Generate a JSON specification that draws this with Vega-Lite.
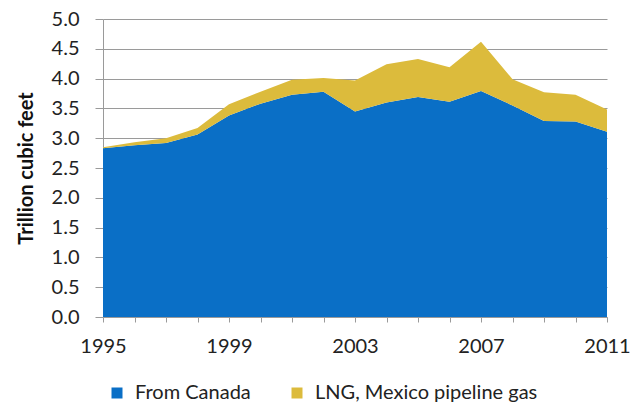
{
  "$schema": "https://vega.github.io/schema/vega-lite/v6.json",
  "width": 504,
  "height": 298,
  "autosize": {"type": "none"},
  "padding": {"left": 103, "top": 19, "right": 33, "bottom": 89},
  "background": "white",
  "config": {"font": "Lato", "view": {"stroke": null}},
  "data": {
    "values": [
      {"year": 1995, "series": "From Canada", "value": 2.83},
      {"year": 1996, "series": "From Canada", "value": 2.88},
      {"year": 1997, "series": "From Canada", "value": 2.92},
      {"year": 1998, "series": "From Canada", "value": 3.06},
      {"year": 1999, "series": "From Canada", "value": 3.38},
      {"year": 2000, "series": "From Canada", "value": 3.58},
      {"year": 2001, "series": "From Canada", "value": 3.73},
      {"year": 2002, "series": "From Canada", "value": 3.78},
      {"year": 2003, "series": "From Canada", "value": 3.45},
      {"year": 2004, "series": "From Canada", "value": 3.6},
      {"year": 2005, "series": "From Canada", "value": 3.69},
      {"year": 2006, "series": "From Canada", "value": 3.61},
      {"year": 2007, "series": "From Canada", "value": 3.79},
      {"year": 2008, "series": "From Canada", "value": 3.55},
      {"year": 2009, "series": "From Canada", "value": 3.29},
      {"year": 2010, "series": "From Canada", "value": 3.28},
      {"year": 2011, "series": "From Canada", "value": 3.11},
      {"year": 1995, "series": "LNG, Mexico pipeline gas", "value": 0.02},
      {"year": 1996, "series": "LNG, Mexico pipeline gas", "value": 0.05},
      {"year": 1997, "series": "LNG, Mexico pipeline gas", "value": 0.08},
      {"year": 1998, "series": "LNG, Mexico pipeline gas", "value": 0.11},
      {"year": 1999, "series": "LNG, Mexico pipeline gas", "value": 0.19},
      {"year": 2000, "series": "LNG, Mexico pipeline gas", "value": 0.2},
      {"year": 2001, "series": "LNG, Mexico pipeline gas", "value": 0.25},
      {"year": 2002, "series": "LNG, Mexico pipeline gas", "value": 0.23},
      {"year": 2003, "series": "LNG, Mexico pipeline gas", "value": 0.52},
      {"year": 2004, "series": "LNG, Mexico pipeline gas", "value": 0.64},
      {"year": 2005, "series": "LNG, Mexico pipeline gas", "value": 0.64},
      {"year": 2006, "series": "LNG, Mexico pipeline gas", "value": 0.58},
      {"year": 2007, "series": "LNG, Mexico pipeline gas", "value": 0.83},
      {"year": 2008, "series": "LNG, Mexico pipeline gas", "value": 0.44},
      {"year": 2009, "series": "LNG, Mexico pipeline gas", "value": 0.48},
      {"year": 2010, "series": "LNG, Mexico pipeline gas", "value": 0.45},
      {"year": 2011, "series": "LNG, Mexico pipeline gas", "value": 0.37}
    ]
  },
  "mark": {"type": "area", "opacity": 1},
  "encoding": {
    "x": {
      "field": "year",
      "type": "quantitative",
      "scale": {"domain": [1995, 2011], "nice": false, "zero": false},
      "axis": {
        "values": [1995, 1996, 1997, 1998, 1999, 2000, 2001, 2002, 2003, 2004, 2005, 2006, 2007, 2008, 2009, 2010, 2011],
        "format": "d",
        "labelExpr": "(datum.value - 1995) % 4 == 0 ? datum.label : ''",
        "title": null,
        "grid": false,
        "domainColor": "#9a9a9a",
        "tickColor": "#9a9a9a",
        "tickSize": 5,
        "labelFontSize": 20,
        "labelColor": "#222222",
        "labelPadding": 14,
        "labelFlush": false
      }
    },
    "y": {
      "field": "value",
      "type": "quantitative",
      "stack": "zero",
      "scale": {"domain": [0, 5], "nice": false},
      "axis": {
        "values": [0, 0.5, 1, 1.5, 2, 2.5, 3, 3.5, 4, 4.5, 5],
        "format": ".1f",
        "title": "Trillion cubic feet",
        "titleFontSize": 20,
        "titleFontWeight": "bold",
        "titleColor": "#111111",
        "titlePadding": 15,
        "gridColor": "#9a9a9a",
        "domainColor": "#9a9a9a",
        "tickColor": "#9a9a9a",
        "tickSize": 8,
        "labelFontSize": 20,
        "labelColor": "#222222",
        "labelPadding": 16
      }
    },
    "color": {
      "field": "series",
      "type": "nominal",
      "scale": {"domain": ["From Canada", "LNG, Mexico pipeline gas"], "range": ["#0a6fc6", "#dcbb3c"]},
      "legend": {
        "title": null,
        "orient": "none",
        "direction": "horizontal",
        "legendX": 4,
        "legendY": 364,
        "symbolType": "square",
        "symbolSize": 121,
        "symbolOpacity": 1,
        "labelFontSize": 20,
        "labelLimit": 400,
        "labelColor": "#222222",
        "columnPadding": 36,
        "labelOffset": 8
      }
    },
    "order": {"field": "series", "sort": "ascending"}
  }
}
